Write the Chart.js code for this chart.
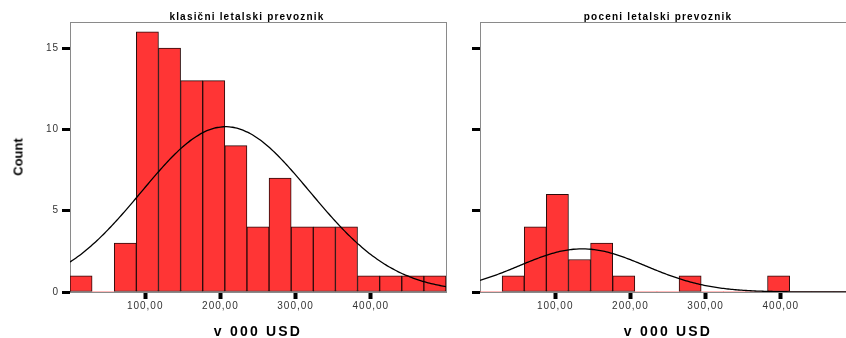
<!DOCTYPE html>
<html>
<head>
<meta charset="utf-8">
<script src="https://cdn.jsdelivr.net/npm/chart.js@4.4.1/dist/chart.umd.min.js"></script>
<style>
  html, body { margin: 0; padding: 0; background: #fff; }
  #wrap { position: relative; width: 846px; height: 338px; overflow: hidden; }
  canvas { position: absolute; top: 0; }
  .lbl { position: absolute; font-family: 'Liberation Sans', Arial, sans-serif; color: #000; white-space: nowrap; transform: translateX(-50%); }
  .naslov { font-size: 10px; font-weight: bold; letter-spacing: 1.2px; line-height: 10px; top: 12px; }
  .os { font-size: 14px; font-weight: bold; letter-spacing: 2.2px; line-height: 14px; top: 324px; }
  #count { font-size: 13px; font-weight: bold; line-height: 13px; left: 18px; top: 157px; transform: translate(-50%, -50%) rotate(-90deg); }
</style>
</head>
<body>
<div id="wrap">
  <canvas id="levo" width="460" height="338" style="left:0"></canvas>
  <canvas id="desno" width="430" height="338" style="left:440px"></canvas>
  <div class="lbl naslov" style="left:247px">klasični letalski prevoznik</div>
  <div class="lbl naslov" style="left:658px">poceni letalski prevoznik</div>
  <div class="lbl os" style="left:258px">v 000 USD</div>
  <div class="lbl os" style="left:668px">v 000 USD</div>
  <div class="lbl" id="count">Count</div>
</div>
<script>
// histogram bins: 17 equal bins from 0 to 500
const binStart = 0;
const binWidth = 500 / 17;
const klasicniCounts = [1, 0, 3, 16, 15, 13, 13, 9, 4, 7, 4, 4, 4, 1, 1, 1, 1];
const poceniCounts   = [0, 1, 4, 6, 2, 3, 1, 0, 0, 1, 0, 0, 0, 1, 0, 0, 0];

// normal curve parameters for each group
const klasicniMean = 207, klasicniSd = 112;
const poceniMean = 136, poceniSd = 84;

const xTicks = [100, 200, 300, 400];
const countTicks = [0, 5, 10, 15];
const xMax = 500;
const yMax = 16.6;

const font = 'Liberation Sans';

function binPoints(counts) {
  return counts.map((c, i) => ({ x: binStart + binWidth * (i + 0.5), y: c }));
}

function normalCurve(counts, mean, sd) {
  const n = counts.reduce((a, b) => a + b, 0);
  const pts = [];
  for (let x = binStart; x <= xMax; x += 4) {
    const z = (x - mean) / sd;
    pts.push({ x: x, y: n * binWidth * Math.exp(-0.5 * z * z) / (sd * Math.sqrt(2 * Math.PI)) });
  }
  return pts;
}

const okvir = {
  id: 'okvir',
  beforeDraw(chart) { chart.ctx.letterSpacing = '1px'; },
  beforeDatasetsDraw(chart) {
    const { ctx, chartArea: a } = chart;
    ctx.save();
    ctx.strokeStyle = '#8a8a8a';
    ctx.lineWidth = 1;
    ctx.strokeRect(a.left + 0.5, a.top + 0.5, a.right - a.left, a.bottom - a.top);
    ctx.restore();
  }
};

function histogram(id, counts, mean, sd, yLabels, yWidth, rightPad) {
  new Chart(document.getElementById(id), {
    type: 'bar',
    data: {
      datasets: [{
        data: binPoints(counts),
        backgroundColor: '#ff3535',
        borderColor: '#2b0b0b',
        borderWidth: c => (c.raw && c.raw.y ? 1 : 0),
        borderSkipped: false,
        barPercentage: 1,
        categoryPercentage: 1,
        order: 2
      }, {
        type: 'line',
        data: normalCurve(counts, mean, sd),
        borderColor: '#000',
        borderWidth: 1.3,
        pointRadius: 0,
        tension: 0.3,
        order: 1
      }]
    },
    options: {
      responsive: false,
      animation: false,
      devicePixelRatio: 1,
      layout: { padding: { top: 22, right: rightPad, left: 0, bottom: 0 } },
      plugins: { legend: { display: false }, tooltip: { enabled: false } },
      scales: {
        x: {
          type: 'linear',
          min: binStart,
          max: xMax,
          offset: false,
          afterBuildTicks: s => { s.ticks = xTicks.map(v => ({ value: v })); },
          afterFit: s => { s.height = 46; },
          border: { display: false },
          grid: { offset: false, drawOnChartArea: false, tickLength: 7, tickWidth: 4, tickColor: '#000' },
          ticks: {
            padding: 1,
            color: '#333',
            font: { family: font, size: 10 },
            maxRotation: 0,
            callback: v => v.toFixed(2).replace('.', ',')
          }
        },
        y: {
          min: 0,
          max: yMax,
          afterBuildTicks: s => { s.ticks = countTicks.map(v => ({ value: v })); },
          afterFit: s => { s.width = yWidth; },
          border: { display: false },
          grid: { drawOnChartArea: false, tickLength: 8, tickWidth: 3, tickColor: '#000' },
          ticks: {
            display: yLabels,
            padding: 3,
            color: '#333',
            font: { family: font, size: 10 }
          }
        }
      }
    },
    plugins: [okvir]
  });
}

histogram('levo', klasicniCounts, klasicniMean, klasicniSd, true, 70, 14);
histogram('desno', poceniCounts, poceniMean, poceniSd, false, 40, 14);
</script>
</body>
</html>
